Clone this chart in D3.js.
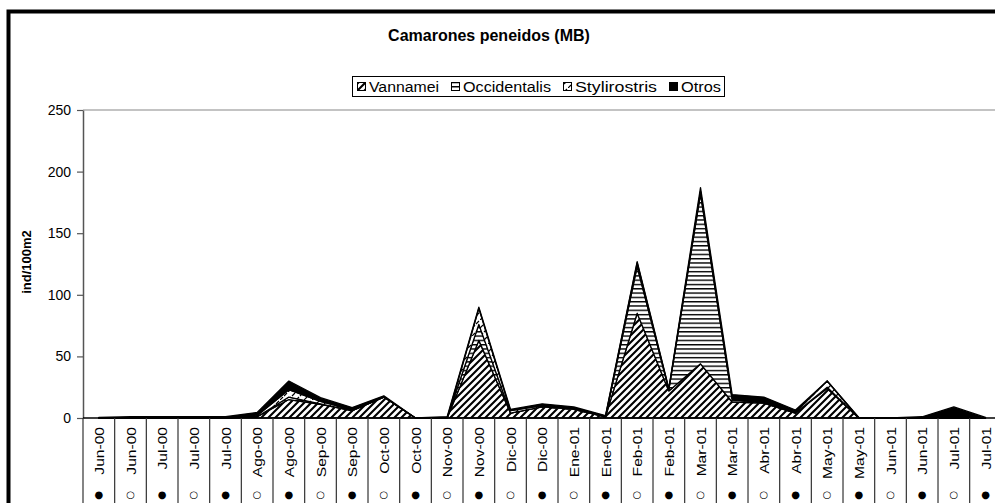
<!DOCTYPE html>
<html><head><meta charset="utf-8">
<script src="https://cdn.jsdelivr.net/npm/d3@7/dist/d3.min.js"></script>
<style>
html,body{margin:0;padding:0;background:#fff;}
svg{display:block;font-family:"Liberation Sans",Arial,sans-serif;}
</style></head>
<body><svg id="c" width="995" height="503"></svg>
<script>
const categories = ["Jun-00","Jun-00","Jul-00","Jul-00","Jul-00","Ago-00","Ago-00","Sep-00","Sep-00","Oct-00","Oct-00","Nov-00","Nov-00","Dic-00","Dic-00","Ene-01","Ene-01","Feb-01","Feb-01","Mar-01","Mar-01","Abr-01","Abr-01","May-01","May-01","Jun-01","Jun-01","Jul-01","Jul-01"];
const markers = ["●","○","●","○","●","○","●","○","●","○","●","○","●","○","●","○","●","○","●","○","●","○","●","○","●","○","●","○","●"];
const vannamei     = [0,0,0,0,0,1,15,11,6,17,0,0,63,4,9,7,1,85,22,44,13,12,4,24,0,0,0,0,0];
const occidentalis = [0,0,0,0,0,0,2,0.5,0,0,0,0,13,0,0,0,0,38,1,138,2,0,0,1,0,0,0,0,0];
const stylirostris = [0,0,0,0,0,1,6,2,0.5,0,0,0,13,2,1,1,0.5,3,0.5,2,1,1,1,5,0,0,0,1,0];
const otros        = [0.5,1,1,1,1,2.5,7,3,2,1,0,1,1,1,1.5,1,0.5,1,0.5,3,3,4,1.5,0,0.5,0,1,8,0.5];
const seriesNames = ["Vannamei","Occidentalis","Stylirostris","Otros"];
const yTicks = [0,50,100,150,200,250];
const title = "Camarones peneidos (MB)";
const yTitle = "ind/100m2";

const svg = d3.select("#c");
const defs = svg.append("defs");
const pV = defs.append("pattern").attr("id","pV").attr("patternUnits","userSpaceOnUse").attr("width",7).attr("height",7);
pV.append("rect").attr("width",7).attr("height",7).attr("fill","#fff");
pV.append("path").attr("d","M-2,2 L2,-2 M0,7 L7,0 M5,9 L9,5").attr("stroke","#000").attr("stroke-width",2.1);
const pO = defs.append("pattern").attr("id","pO").attr("patternUnits","userSpaceOnUse").attr("width",8).attr("height",4.3);
pO.append("rect").attr("width",8).attr("height",4.3).attr("fill","#fff");
pO.append("rect").attr("y",0).attr("width",8).attr("height",1.4).attr("fill","#000");
const pS = defs.append("pattern").attr("id","pS").attr("patternUnits","userSpaceOnUse").attr("width",8).attr("height",8);
pS.append("rect").attr("width",8).attr("height",8).attr("fill","#fff");
pS.append("path").attr("d","M0,8 L3,5 M4,4 L7,1").attr("stroke","#000").attr("stroke-width",1.2);
const fills = ["url(#pV)","url(#pO)","url(#pS)","#000"];

svg.append("rect").attr("x",8.5).attr("y",11.5).attr("width",1100).attr("height",700)
  .attr("fill","none").attr("stroke","#000").attr("stroke-width",4);

const x = d3.scaleBand().domain(d3.range(categories.length)).range([83, 83 + categories.length*31.667]).padding(0);
const y = d3.scaleLinear().domain([0,250]).range([418,110]);
const cx = i => x(i) + x.bandwidth()/2;

svg.append("line").attr("x1",83).attr("x2",x.range()[1]).attr("y1",y(250)).attr("y2",y(250)).attr("stroke","#888").attr("stroke-width",1.2);

const table = categories.map((c,i)=>({i, v:vannamei[i], o:occidentalis[i], s:stylirostris[i], t:otros[i]}));
const layers = d3.stack().keys(["v","o","s","t"])(table);
const area = d3.area().x(d=>cx(d.data.i)).y0(d=>y(d[0])).y1(d=>y(d[1]));
svg.append("g").selectAll("path").data(layers).join("path")
  .attr("d",area).attr("fill",(d,k)=>fills[k]).attr("stroke","#000").attr("stroke-width",1.3).attr("stroke-linejoin","round");

const ya = svg.append("g").attr("transform","translate(83,0)").call(d3.axisLeft(y).tickValues(yTicks).tickSize(6).tickSizeOuter(0));
ya.select(".domain").attr("stroke","#555").attr("stroke-width",1.5);
ya.selectAll(".tick line").attr("stroke","#555").attr("stroke-width",1.2);
ya.selectAll(".tick text").attr("x",-12).attr("font-size",14).attr("font-family","Liberation Sans, Arial").attr("fill","#000");

const xg = svg.append("g");
xg.append("line").attr("x1",83).attr("x2",x.range()[1]).attr("y1",418).attr("y2",418).attr("stroke","#000").attr("stroke-width",1.3);
xg.selectAll("line.b").data(d3.range(categories.length+1)).join("line").attr("class","b")
  .attr("x1",i=> i<categories.length ? x(i) : x.range()[1]).attr("x2",i=> i<categories.length ? x(i) : x.range()[1])
  .attr("y1",418).attr("y2",503).attr("stroke","#333").attr("stroke-width",1.2);
xg.selectAll("text.cat").data(categories).join("text").attr("class","cat")
  .attr("transform",(d,i)=>`translate(${cx(i)+5},427) rotate(-90) scale(1.2,1)`)
  .attr("text-anchor","end").attr("font-size",13).text(d=>d);
xg.selectAll("text.mk").data(markers).join("text").attr("class","mk")
  .attr("x",(d,i)=>cx(i)).attr("y",498).attr("text-anchor","middle").attr("font-size",10)
  .attr("font-family","DejaVu Sans").text(d=>d);

svg.append("text").attr("x",489).attr("y",41).attr("text-anchor","middle").attr("font-weight","bold").attr("font-size",16).text(title);
svg.append("text").attr("transform","translate(31,262) rotate(-90)").attr("text-anchor","middle").attr("font-weight","bold").attr("font-size",13).text(yTitle);

const lg = svg.append("g");
lg.append("rect").attr("x",352.5).attr("y",76.5).attr("width",372).attr("height",20).attr("fill","#fff").attr("stroke","#000").attr("stroke-width",1);
const lx = [357, 451, 563, 669];
const lw = [70, 88, 82, 40];
seriesNames.forEach((n,k)=>{
  lg.append("rect").attr("x",lx[k]+0.5).attr("y",82.5).attr("width",8).attr("height",8).attr("fill",fills[k]).attr("stroke","#000");
  lg.append("text").attr("x",lx[k]+12).attr("y",91.5).attr("font-size",14)
    .attr("textLength",lw[k]).attr("lengthAdjust","spacingAndGlyphs").text(n);
});
</script></body></html>
